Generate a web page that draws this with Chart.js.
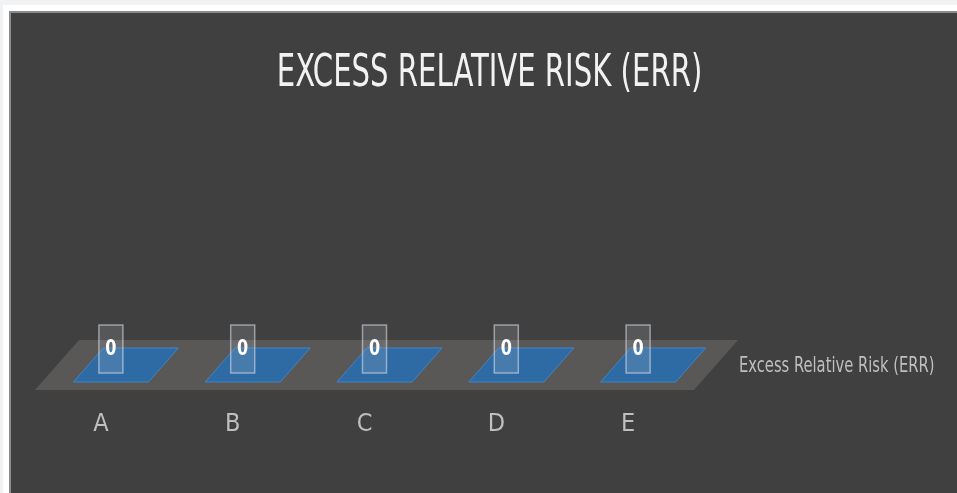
<!DOCTYPE html>
<html>
<head>
<meta charset="utf-8">
<script src="https://cdn.jsdelivr.net/npm/chart.js@4.4.1/dist/chart.umd.min.js"></script>
<style>
  html, body { margin: 0; padding: 0; background: #f1f2f4; }
  canvas { display: block; }
</style>
</head>
<body>
<canvas id="chart" width="957" height="493"></canvas>
<script>
// Chart content
const chartTitle = 'EXCESS RELATIVE RISK (ERR)';
const categories = ['A', 'B', 'C', 'D', 'E'];
const seriesName = 'Excess Relative Risk (ERR)';
const errValues = [0, 0, 0, 0, 0];

// Styling
const FONT = "'Liberation Sans Narrow', 'DejaVu Sans Condensed', 'Liberation Sans', sans-serif";
const PANEL = '#404040';
const FLOOR = '#5a5857';
const BAR_TOP = '#2e6aa3';
const BAR_EDGE = '#3f85c6';
const TEXT_LIGHT = '#f2f2f2';
const TEXT_MUTED = '#bfbfbf';

// Oblique depth of the 3-D floor, as a fraction of one category width
const DEPTH_X = 0.334;
const DEPTH_Y = -0.38;
// Where the columns sit inside that depth (front / back fraction)
const COL_FRONT = 0.16;
const COL_BACK = 0.84;

function condensedText(ctx, text, x, y, size, weight, color, stretch, align) {
  ctx.save();
  ctx.font = `${weight} ${size}px ${FONT}`;
  ctx.fillStyle = color;
  ctx.textBaseline = 'middle';
  ctx.textAlign = 'left';
  const w = ctx.measureText(text).width * stretch;
  let left = x;
  if (align === 'center') left = x - w / 2;
  ctx.translate(left, y);
  ctx.scale(stretch, 1);
  ctx.fillText(text, 0, 0);
  ctx.restore();
}

// Page frame and dark chart panel
const framePlugin = {
  id: 'frame',
  beforeDraw(chart) {
    const { ctx, width, height } = chart;
    ctx.save();
    ctx.fillStyle = '#f1f2f4';
    ctx.fillRect(0, 0, width, height);
    ctx.fillStyle = '#ffffff';
    ctx.fillRect(3, 5, width - 3, height - 5);
    ctx.fillStyle = '#8c8c8c';
    ctx.fillRect(9, 11, width - 9, height - 11);
    ctx.fillStyle = PANEL;
    ctx.fillRect(11, 13, width - 11, height - 13);
    ctx.restore();
  }
};

// Title drawn in a condensed face
const titlePlugin = {
  id: 'condensedTitle',
  afterDraw(chart) {
    condensedText(chart.ctx, chartTitle, chart.width / 2 + 11, 74, 45, 'normal', TEXT_LIGHT, 0.72, 'center');
  }
};

// 3-D floor, flat columns, value labels and the series (depth) axis label
const column3dPlugin = {
  id: 'column3d',
  beforeDatasetsDraw(chart) {
    const { ctx, chartArea, scales } = chart;
    const x = scales.x;
    const cw = x.getPixelForValue(1) - x.getPixelForValue(0);
    const dx = DEPTH_X * cw, dy = DEPTH_Y * cw;
    const y0 = scales.y.getPixelForValue(0);
    ctx.save();
    ctx.beginPath();
    ctx.moveTo(chartArea.left, y0);
    ctx.lineTo(chartArea.right, y0);
    ctx.lineTo(chartArea.right + dx, y0 + dy);
    ctx.lineTo(chartArea.left + dx, y0 + dy);
    ctx.closePath();
    ctx.fillStyle = FLOOR;
    ctx.fill();
    ctx.restore();
  },
  afterDatasetsDraw(chart) {
    const { ctx, chartArea, scales } = chart;
    const x = scales.x;
    const cw = x.getPixelForValue(1) - x.getPixelForValue(0);
    const dx = DEPTH_X * cw, dy = DEPTH_Y * cw;
    const meta = chart.getDatasetMeta(0);
    const values = chart.data.datasets[0].data;

    meta.data.forEach((bar, i) => {
      const L = bar.x - bar.width / 2 + 3;
      const R = bar.x + bar.width / 2 + 3;
      const top = bar.y, base = bar.base;
      const fx = COL_FRONT * dx, fy = COL_FRONT * dy;
      const bx = COL_BACK * dx, by = COL_BACK * dy;
      ctx.save();
      ctx.lineWidth = 1;
      ctx.strokeStyle = BAR_EDGE;
      // front and side faces (only when the column has height)
      if (base - top > 0.5) {
        ctx.fillStyle = '#2a5f92';
        ctx.fillRect(L + fx, top + fy, R - L, base - top);
        ctx.beginPath();
        ctx.moveTo(R + fx, top + fy);
        ctx.lineTo(R + bx, top + by);
        ctx.lineTo(R + bx, base + by);
        ctx.lineTo(R + fx, base + fy);
        ctx.closePath();
        ctx.fillStyle = '#244f7a';
        ctx.fill();
      }
      // top face
      ctx.beginPath();
      ctx.moveTo(L + fx, top + fy);
      ctx.lineTo(R + fx, top + fy);
      ctx.lineTo(R + bx, top + by);
      ctx.lineTo(L + bx, top + by);
      ctx.closePath();
      ctx.fillStyle = BAR_TOP;
      ctx.fill();
      ctx.stroke();
      ctx.restore();

      // value label box
      const cx = bar.x + 10;
      const cy = top - 41;
      const bw = 24, bh = 48;
      ctx.save();
      ctx.fillStyle = 'rgba(200, 210, 225, 0.16)';
      ctx.fillRect(cx - bw / 2, cy - bh / 2, bw, bh);
      ctx.strokeStyle = 'rgba(225, 228, 235, 0.55)';
      ctx.lineWidth = 1.5;
      ctx.strokeRect(cx - bw / 2, cy - bh / 2, bw, bh);
      ctx.restore();
      condensedText(ctx, String(values[i]), cx, cy + 1, 21, 'bold', '#ffffff', 0.85, 'center');
    });

    const y0 = scales.y.getPixelForValue(0);
    condensedText(ctx, seriesName, chartArea.right + dx / 2 + 23, y0 + dy / 2 + 2, 21, 'normal', TEXT_MUTED, 0.78, 'left');
  }
};

new Chart(document.getElementById('chart'), {
  type: 'bar',
  data: {
    labels: categories,
    datasets: [{
      label: seriesName,
      data: errValues,
      backgroundColor: 'rgba(0,0,0,0)',
      borderWidth: 0,
      categoryPercentage: 1,
      barPercentage: 0.57
    }]
  },
  options: {
    responsive: false,
    animation: false,
    events: [],
    layout: { padding: { left: 35, right: 263, top: 140, bottom: 0 } },
    plugins: {
      legend: { display: false },
      title: { display: false },
      tooltip: { enabled: false }
    },
    scales: {
      x: {
        grid: { display: false, drawTicks: false },
        border: { display: false },
        ticks: {
          color: TEXT_MUTED,
          padding: 19,
          font: { family: FONT, size: 25 }
        },
        afterFit(scale) { scale.height = 103; }
      },
      y: {
        display: false,
        min: 0,
        max: 1
      }
    }
  },
  plugins: [framePlugin, column3dPlugin, titlePlugin]
});
</script>
</body>
</html>
